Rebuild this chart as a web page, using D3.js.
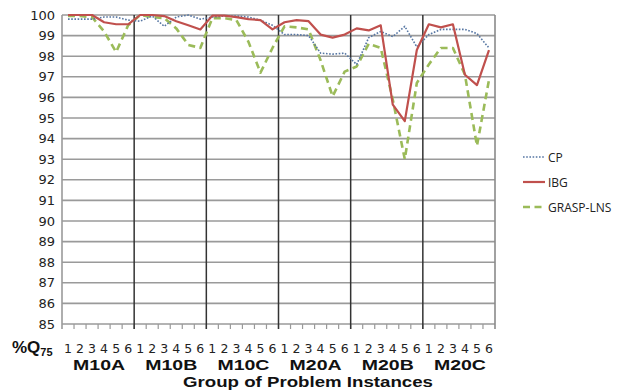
<!DOCTYPE html>
<html><head><meta charset="utf-8">
<script src="https://cdn.jsdelivr.net/npm/d3@7"></script>
<style>body{margin:0;background:#fff}svg{display:block}</style>
</head><body>
<svg id="c" width="621" height="392"></svg>
<script>
const groups = ["M10A","M10B","M10C","M20A","M20B","M20C"];
const instances = ["1","2","3","4","5","6"];
const yTicks = [85,86,87,88,89,90,91,92,93,94,95,96,97,98,99,100];
const seriesNames = ["CP","IBG","GRASP-LNS"];
const cpValues = [99.8,99.8,99.8,99.9,99.9,99.75, 99.7,99.95,99.45,99.9,100,99.8, 99.9,99.95,99.95,99.9,99.75,99.5, 99.05,99.05,99.0,98.15,98.1,98.15, 97.6,98.9,99.2,98.95,99.45,98.45, 99.05,99.3,99.3,99.3,99.1,98.4];
const ibgValues = [100,100,100,99.65,99.55,99.55, 100,100,99.95,99.7,99.5,99.3, 99.97,99.97,99.9,99.8,99.75,99.3, 99.65,99.75,99.7,99.05,98.9,99.05, 99.35,99.25,99.5,95.65,94.85,98.3, 99.55,99.4,99.55,97.1,96.6,98.3];
const graspValues = [99.95,99.95,99.9,99.2,98.2,99.5, 100,99.9,99.85,99.35,98.55,98.4, 99.85,99.85,99.75,98.7,97.2,98.4, 99.45,99.4,99.3,97.8,96.05,97.25, 97.5,98.6,98.4,95.9,93.0,96.7, 97.6,98.4,98.4,97.1,93.65,96.85];

const svg = d3.select("#c");
const L = 62, R = 495, T = 15, B = 324;
const keys = [];
groups.forEach(g => instances.forEach(i => keys.push(g + "-" + i)));
const x = d3.scaleBand().domain(keys).range([L, R]).padding(0);
const y = d3.scaleLinear().domain([85, 100]).range([B, T]);
const cx = k => x(k) + x.bandwidth() / 2;

// horizontal gridlines
svg.append("g").selectAll("line").data(yTicks).join("line")
  .attr("x1", L).attr("x2", R).attr("y1", d => y(d)).attr("y2", d => y(d))
  .attr("stroke", "#9a9a9a").attr("stroke-width", 1.6);

// y labels
svg.append("g").selectAll("text").data(yTicks).join("text")
  .attr("x", 55).attr("y", d => y(d) + 4.5).attr("text-anchor", "end")
  .attr("font-family", "DejaVu Sans").attr("font-size", 13).attr("fill", "#222")
  .text(d => d);

// left axis & right border
svg.append("line").attr("x1", L).attr("x2", L).attr("y1", T).attr("y2", B + 5)
  .attr("stroke", "#9a9a9a").attr("stroke-width", 1.6);
svg.append("line").attr("x1", R).attr("x2", R).attr("y1", T).attr("y2", B + 5)
  .attr("stroke", "#8a8a8a").attr("stroke-width", 1.6);

// tick marks at category boundaries
svg.append("g").selectAll("line").data(keys.slice(1)).join("line")
  .attr("x1", d => x(d)).attr("x2", d => x(d)).attr("y1", B).attr("y2", B + 5)
  .attr("stroke", "#9a9a9a").attr("stroke-width", 1.2);

// group separators
svg.append("g").selectAll("line").data(groups.slice(1)).join("line")
  .attr("x1", d => x(d + "-1")).attr("x2", d => x(d + "-1"))
  .attr("y1", T).attr("y2", B + 5)
  .attr("stroke", "#333").attr("stroke-width", 1.5);

// series
const line = d3.line().x((d, i) => cx(keys[i])).y(d => y(d));
const styles = [
  {v: cpValues, c: "#5676a3", w: 1.6, dash: "1.6,1.6"},
  {v: ibgValues, c: "#c0504d", w: 2.2, dash: null},
  {v: graspValues, c: "#9bbb59", w: 2.6, dash: "7,4.5"}
];
[2, 0, 1].forEach(si => {
  const s = styles[si];
  svg.append("path").datum(s.v).attr("d", line).attr("fill", "none")
    .attr("stroke", s.c).attr("stroke-width", s.w)
    .attr("stroke-dasharray", s.dash).attr("stroke-linejoin", "round");
});

// instance labels
svg.append("g").selectAll("text").data(keys).join("text")
  .attr("x", d => cx(d)).attr("y", 353).attr("text-anchor", "middle")
  .attr("font-family", "DejaVu Sans").attr("font-size", 12.5).attr("fill", "#222")
  .text(d => d.split("-")[1]);

// group labels
svg.append("g").selectAll("text").data(groups).join("text")
  .attr("x", d => (x(d + "-1") + x(d + "-6") + x.bandwidth()) / 2 + 1).attr("y", 370)
  .attr("text-anchor", "middle")
  .attr("font-family", "Liberation Sans").attr("font-weight", "bold").attr("font-size", 15)
  .attr("textLength", 52).attr("lengthAdjust", "spacingAndGlyphs").attr("fill", "#111")
  .text(d => d);

// %Q75
const q = svg.append("text").attr("x", 12).attr("y", 353)
  .attr("font-family", "Liberation Sans").attr("font-weight", "bold").attr("fill", "#111");
q.append("tspan").attr("font-size", 17).text("%Q");
q.append("tspan").attr("font-size", 11).attr("dy", 3).text("75");

// axis title
svg.append("text").attr("x", 308).attr("y", 387).attr("text-anchor", "middle")
  .attr("font-family", "Liberation Sans").attr("font-weight", "bold").attr("font-size", 15)
  .attr("textLength", 250).attr("lengthAdjust", "spacingAndGlyphs").attr("fill", "#111")
  .text("Group of Problem Instances");

// legend
const ly = [157, 182, 207];
styles.forEach((s, i) => {
  svg.append("line").attr("x1", 523).attr("x2", 545).attr("y1", ly[i]).attr("y2", ly[i])
    .attr("stroke", s.c).attr("stroke-width", s.w).attr("stroke-dasharray", s.dash);
  svg.append("text").attr("x", 548).attr("y", ly[i] + 4.5)
    .attr("font-family", "Open Sans").attr("font-size", 12).attr("fill", "#222")
    .text(seriesNames[i]);
});
</script>
</body></html>
